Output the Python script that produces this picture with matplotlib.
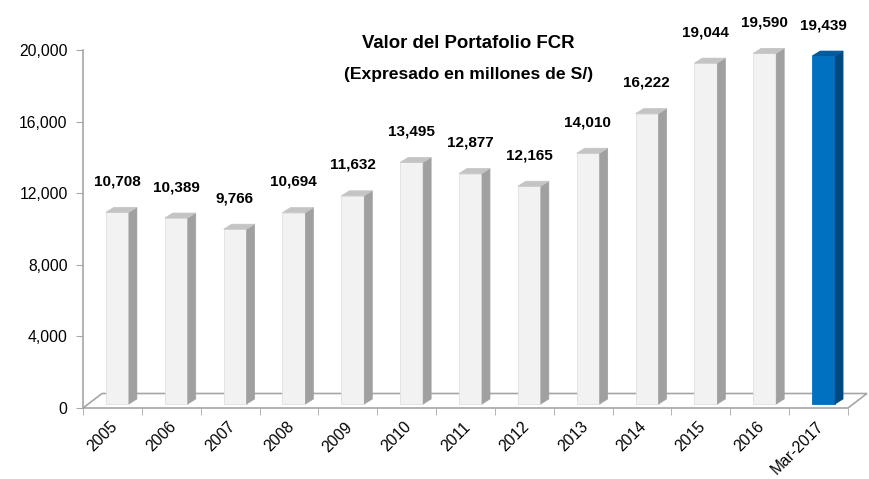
import numpy as np
import matplotlib.pyplot as plt
from matplotlib.patches import Polygon
from matplotlib.ticker import FuncFormatter

plt.rcParams["font.family"] = ["Liberation Sans", "DejaVu Sans"]

categories = ["2005", "2006", "2007", "2008", "2009", "2010", "2011",
              "2012", "2013", "2014", "2015", "2016", "Mar-2017"]
values = [10708, 10389, 9766, 10694, 11632, 13495, 12877,
          12165, 14010, 16222, 19044, 19590, 19439]
highlight = [False] * 12 + [True]
y_ticks = [0, 4000, 8000, 12000, 16000, 20000]

GRAY_FRONT, GRAY_SIDE, GRAY_TOP = "#f2f2f2", "#a0a0a0", "#c4c4c4"
BLUE_FRONT, BLUE_SIDE, BLUE_TOP = "#0070c0", "#004a80", "#005a9e"
EDGE = "#a6a6a6"

W, H = 870, 479
fig = plt.figure(figsize=(W / 100, H / 100), dpi=100)
# axes placed so that data (-0.5..12.5, 0..20000) maps to reference pixels
x0, x1 = 83, 848
y0, y1 = 408, 50
ax = fig.add_axes([x0 / W, (H - y0) / H, (x1 - x0) / W, (y0 - y1) / H])
ax.set_xlim(-0.5, len(categories) - 0.5)
ax.set_ylim(0, 20000)

px_x = (len(categories)) / (x1 - x0)   # data units per pixel, x
px_y = 20000 / (y0 - y1)               # data units per pixel, y

# floor
fdx, fdy = 19 * px_x, 14.5 * px_y
n = len(categories)
floor = Polygon([(-0.5, 0), (n - 0.5, 0), (n - 0.5 + fdx, fdy), (-0.5 + fdx, fdy)],
                closed=True, facecolor="white", edgecolor=EDGE, lw=1.2,
                clip_on=False, zorder=1)
ax.add_patch(floor)

# bars (front face lifted a little, as in the 3D original)
left, right = -0.11, 0.28
ddx, ddy = 8 * px_x, 5 * px_y
base = 4 * px_y
for i, (v, hl) in enumerate(zip(values, highlight)):
    front_c, side_c, top_c = (BLUE_FRONT, BLUE_SIDE, BLUE_TOP) if hl else (GRAY_FRONT, GRAY_SIDE, GRAY_TOP)
    xl, xr = i + left, i + right
    top = v + base
    ax.add_patch(Polygon([(xl, base), (xr, base), (xr, top), (xl, top)], closed=True,
                         facecolor=front_c, edgecolor="#e0e0e0" if not hl else front_c,
                         lw=0.6, zorder=3, clip_on=False))
    ax.add_patch(Polygon([(xr, base), (xr + ddx, base + ddy), (xr + ddx, top + ddy), (xr, top)],
                         closed=True, facecolor=side_c, edgecolor=side_c, lw=0.5,
                         zorder=3, clip_on=False))
    ax.add_patch(Polygon([(xl, top), (xr, top), (xr + ddx, top + ddy), (xl + ddx, top + ddy)],
                         closed=True, facecolor=top_c, edgecolor=top_c, lw=0.5,
                         zorder=3, clip_on=False))
    ax.text(i + 0.08, v + 35 * px_y, f"{v:,}", ha="center", va="center",
            fontsize=11, fontweight="bold", color="black", zorder=4)

# axes styling
for s in ["top", "right", "bottom"]:
    ax.spines[s].set_visible(False)
ax.spines["left"].set_color(EDGE)
ax.spines["left"].set_linewidth(1.2)

ax.set_yticks(y_ticks)
ax.yaxis.set_major_formatter(FuncFormatter(lambda v, p: f"{int(v):,}"))
ax.tick_params(axis="y", length=5, color=EDGE, labelsize=11.3, pad=6)

ax.set_xticks(np.arange(n) - 0.05)
ax.set_xticklabels(categories, rotation=45, ha="right", va="top",
                   rotation_mode="anchor", fontsize=11.3)
ax.set_xticks(np.arange(n + 1) - 0.5, minor=True)
ax.tick_params(axis="x", which="major", length=0, pad=8)
ax.tick_params(axis="x", which="minor", length=5, color=EDGE)

fig.text(468 / W, 1 - 43 / H, "Valor del Portafolio FCR", ha="center", va="center",
         fontsize=13.4, fontweight="bold")
fig.text(469 / W, 1 - 74 / H, "(Expresado en millones de S/)", ha="center", va="center",
         fontsize=12.6, fontweight="bold")

fig.savefig("out.png", dpi=100)
